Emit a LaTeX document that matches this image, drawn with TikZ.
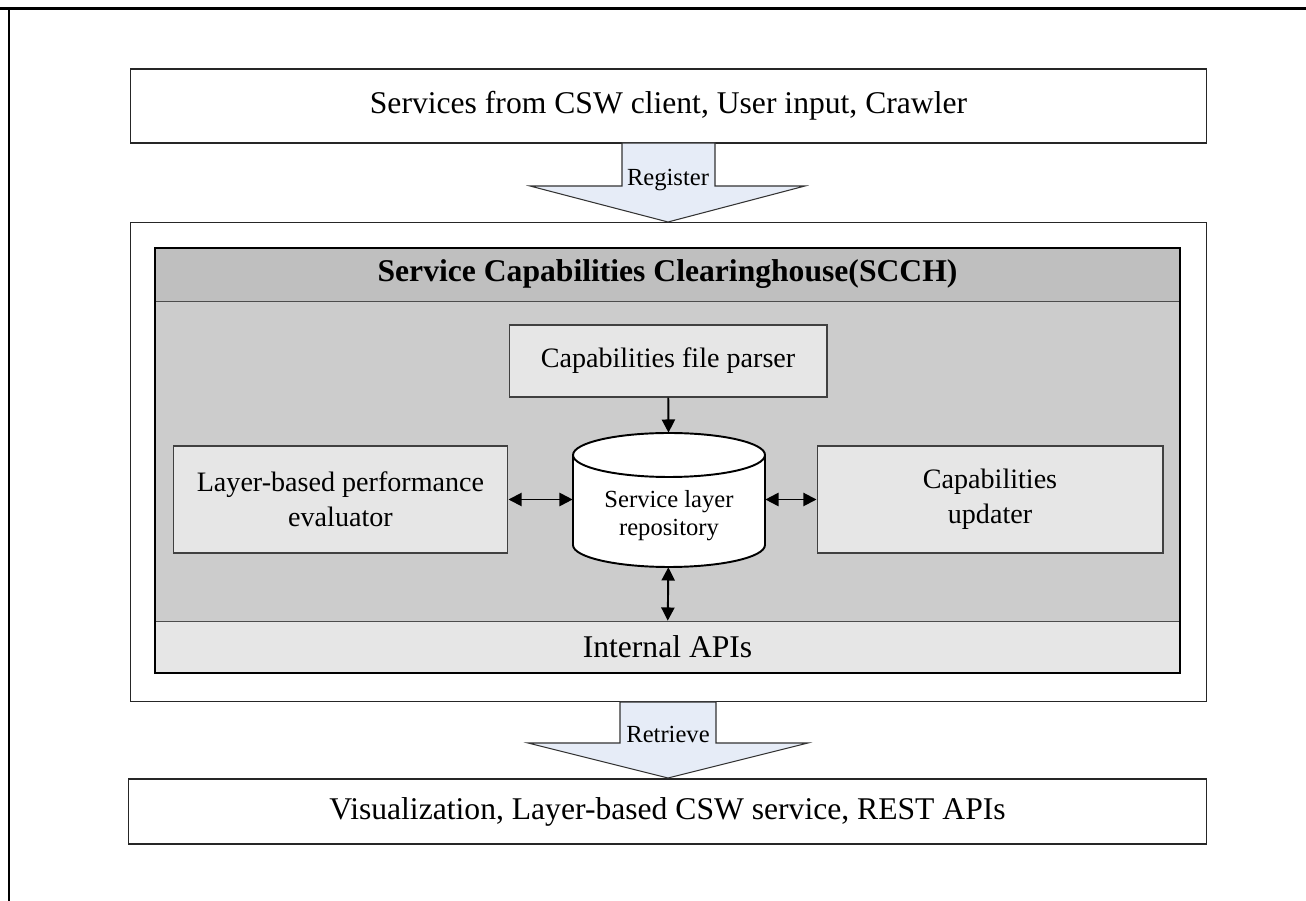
\documentclass[tikz,border=0pt]{standalone}
\usepackage{fontspec}
\setmainfont{Liberation Serif}
\usetikzlibrary{shapes.geometric,arrows.meta,positioning,calc}
\definecolor{hdgray}{RGB}{191,191,191}
\definecolor{midgray}{RGB}{204,204,204}
\definecolor{litegray}{RGB}{230,230,230}
\definecolor{arrowblue}{RGB}{230,236,247}

\tikzset{
  outerbox/.style={draw=black!85, line width=0.6pt, fill=white, minimum width=21.54cm},
  bigtext/.style={font=\fontsize{18}{22}\selectfont},
  innerbox/.style={draw=black!75, line width=0.6pt, fill=litegray, align=center,
    font=\fontsize{16}{20}\selectfont},
  blockarrow/.style={draw=black!80, line width=0.6pt, fill=arrowblue},
  link/.style={line width=1.1pt, <->}
}

\begin{document}
\begin{tikzpicture}[x=0.02cm, y=-0.02cm, >={Triangle[length=7.5pt,width=7.5pt]}]
  \useasboundingbox (0,0) rectangle (1306,901);
  % page frame
  \draw[line width=1.7pt] (0,9) -- (1306,9);
  \draw[line width=1.7pt] (9,9) -- (9,901);

  \node[outerbox, bigtext, minimum height=1.48cm] (src) at (668.5,106) {Services from CSW client, User input, Crawler};
  \node[outerbox, minimum height=9.6cm] (mid) at (668.5,462) {};
  \node[outerbox, bigtext, minimum width=21.58cm, minimum height=1.3cm] (out) at (667.5,811.5) {Visualization, Layer-based CSW service, REST APIs};

  % register / retrieve arrows
  \draw[blockarrow] (622,143) -- (715,143) -- (715,186) -- (805,186) -- (668,222)
    -- (530,186) -- (622,186) -- cycle;
  \node[font=\fontsize{14}{16}\selectfont, anchor=base] (reg) at (668,186) {Register};
  \draw[blockarrow] (620,702) -- (716,702) -- (716,743) -- (808,743) -- (668,778)
    -- (528,743) -- (620,743) -- cycle;
  \node[font=\fontsize{14}{16}\selectfont, anchor=base] (ret) at (668,743) {Retrieve};

  % SCCH
  \node[draw=black!70, fill=hdgray, minimum width=20.5cm, minimum height=1.06cm,
    font=\fontsize{18}{22}\selectfont\bfseries] (hdr) at (667.5,274.5) {Service Capabilities Clearinghouse(SCCH)};
  \node[draw=black!70, fill=midgray, minimum width=20.5cm, minimum height=6.4cm] (core) at (667.5,461) {};
  \node[draw=black!70, fill=litegray, minimum width=20.5cm, minimum height=1.04cm, bigtext] (apis) at (667.5,647) {Internal APIs};
  \draw[line width=1.3pt] (hdr.north west) rectangle (apis.south east);

  \node[innerbox, minimum width=6.36cm, minimum height=1.44cm] (parser) at (668,361) {Capabilities file parser};
  \node[innerbox, minimum width=6.7cm, minimum height=2.14cm] (perf) at (340.5,499.5) {Layer-based performance\\evaluator};
  \node[innerbox, minimum width=6.92cm, minimum height=2.14cm] (upd) at (990,499.5) {Capabilities\\updater};

  % repository drum
  \node[minimum width=3.84cm, minimum height=2.68cm] (repo) at (669,500) {};
  \draw[line width=1.1pt, fill=white] (573,455) -- (573,545)
    arc[start angle=180, end angle=360, x radius=1.92cm, y radius=0.44cm] -- (765,455)
    arc[start angle=0, end angle=180, x radius=1.92cm, y radius=0.44cm] -- cycle;
  \draw[line width=1.1pt] (573,455) arc[start angle=180, end angle=360, x radius=1.92cm, y radius=0.44cm];
  \node[align=center, font=\fontsize{14}{16}\selectfont] (repotxt) at (669,516) {Service layer\\repository};

  \draw[line width=1.1pt, ->] (parser) -- (repo);
  \draw[link] (perf.east) -- (perf.east -| repo.west);
  \draw[link] (upd.west -| repo.east) -- (upd.west);
  \draw[link] (repo) -- (apis);
\end{tikzpicture}
\end{document}
